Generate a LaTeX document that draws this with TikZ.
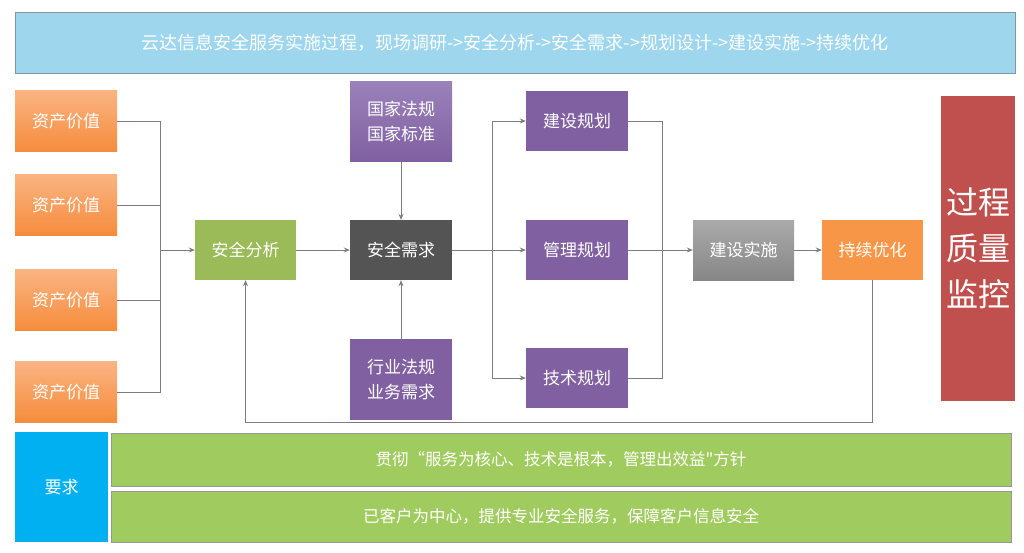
\documentclass[tikz,border=0pt]{standalone}
\usepackage{fontspec}
\newfontfamily\cjk{Noto Sans CJK SC}
\usetikzlibrary{arrows.meta}
\definecolor{bannerblue}{RGB}{158,214,237}
\definecolor{bannerline}{RGB}{130,150,160}
\definecolor{orgtop}{RGB}{250,180,130}
\definecolor{orgbot}{RGB}{246,140,60}
\definecolor{orgflat}{RGB}{247,150,70}
\definecolor{grn}{RGB}{155,187,89}
\definecolor{dark}{RGB}{85,84,85}
\definecolor{purp}{RGB}{128,96,161}
\definecolor{purptop}{RGB}{154,130,186}
\definecolor{graytop}{RGB}{170,170,170}
\definecolor{graybot}{RGB}{135,135,135}
\definecolor{redbox}{RGB}{192,80,77}
\definecolor{cyanbox}{RGB}{0,176,240}
\definecolor{grnbar}{RGB}{160,203,95}
\definecolor{linec}{RGB}{125,125,125}
\begin{document}
\begin{tikzpicture}[x=1pt,y=-1pt,
  base/.style={rectangle, inner sep=0pt, text=white, align=center,
    font=\cjk\fontsize{17}{25}\selectfont},
  obox/.style={base, minimum width=102pt, minimum height=61pt,
    top color=orgtop, bottom color=orgbot},
  sbox/.style={base, minimum width=101pt, minimum height=60pt},
  pbox/.style={base, minimum width=102pt, minimum height=60pt, fill=purp},
  gbar/.style={base, minimum width=900pt, draw=linec!80, line width=0.6pt, fill=grnbar,
    font=\cjk\fontsize{16.5}{24}\selectfont},
  conn/.style={draw=linec, line width=0.9pt},
  arr/.style={conn, -{Stealth[length=6pt,width=5pt]}}
]
\useasboundingbox[fill=white] (0,0) rectangle (1024,552);

% banner
\node[base, minimum width=1000pt, minimum height=61pt, fill=bannerblue,
  draw=bannerline, line width=0.7pt, font=\cjk\fontsize{18}{24}\selectfont] (banner) at (515,42.5)
  {云达信息安全服务实施过程，现场调研->安全分析->安全需求->规划设计->建设实施->持续优化};

% asset boxes
\node[obox] (a1) at (66,121) {资产价值};
\node[obox] (a2) at (66,205) {资产价值};
\node[obox] (a3) at (66,300) {资产价值};
\node[obox] (a4) at (66,392) {资产价值};

% core chain
\node[sbox, fill=grn] (fx) at (245.5,250) {安全分析};
\node[sbox, minimum width=102pt, fill=dark] (xq) at (401,250) {安全需求};
\node[base, minimum width=102pt, minimum height=80pt, top color=purptop, bottom color=purp] (gj) at (401,121) {国家法规\\国家标准};
\node[base, minimum width=102pt, minimum height=81pt, fill=purp] (hy) at (401,379.5) {行业法规\\业务需求};

\node[pbox] (p1) at (577,121) {建设规划};
\node[pbox] (p2) at (577,250) {管理规划};
\node[pbox] (p3) at (577,378) {技术规划};

\node[sbox, top color=graytop, bottom color=graybot] (ss) at (743.5,250) {建设实施};
\node[sbox, fill=orgflat] (yh) at (872.5,250) {持续优化};

\node[base, minimum width=74pt, minimum height=305pt, fill=redbox,
  font=\cjk\fontsize{32}{46}\selectfont] (qc) at (978,248.5) {过程\\质量\\监控};

% bottom
\node[base, minimum width=93pt, minimum height=110pt, fill=cyanbox] (yq) at (61.5,487) {要求};
\node[gbar, minimum height=53pt] (g1) at (561,459.5) {贯彻“服务为核心、技术是根本，管理出效益"方针};
\node[gbar, minimum height=51pt] (g2) at (561,516.5) {已客户为中心，提供专业安全服务，保障客户信息安全};

% connectors
\coordinate (b1) at (160,250);
\coordinate (b2) at (492,250);
\coordinate (b3) at (662,250);
\coordinate (fbl) at (0,422);

\draw[conn] (a1.east) -| (b1);
\draw[conn] (a4.east) -| (b1);
\draw[conn] (a2.east) -- (a2.east -| b1);
\draw[conn] (a3.east) -- (a3.east -| b1);
\draw[arr] (b1) -- (fx.west);

\draw[arr] (fx.east) -- (xq.west);
\draw[arr] (gj.south) -- (xq.north);
\draw[arr] (hy.north) -- (xq.south);

\draw[conn] (xq.east) -- (b2);
\draw[arr] (b2) |- (p1.west);
\draw[arr] (b2) -- (p2.west);
\draw[arr] (b2) |- (p3.west);

\draw[conn] (p1.east) -| (b3);
\draw[conn] (p3.east) -| (b3);
\draw[conn] (p2.east) -- (b3);
\draw[arr] (b3) -- (ss.west);

\draw[arr] (ss.east) -- (yh.west);

\draw[arr] (yh.south) -- (yh.south |- fbl) -- (fx.south |- fbl) -- (fx.south);
\end{tikzpicture}
\end{document}
